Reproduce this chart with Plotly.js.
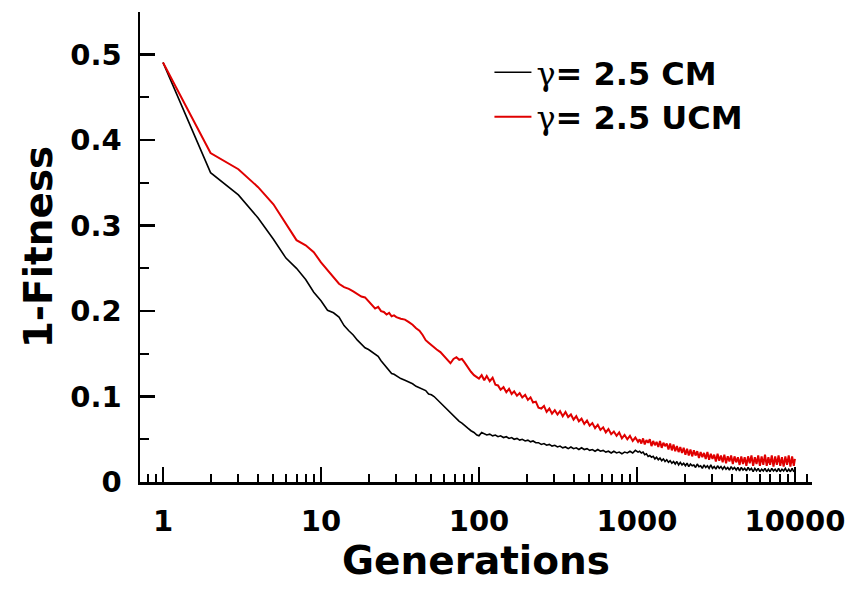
<!DOCTYPE html>
<html>
<head>
<meta charset="utf-8">
<script src="https://cdn.plot.ly/plotly-3.0.1.min.js"></script>
<style>html,body{margin:0;padding:0;background:#fff;}#chart{width:850px;height:590px;}</style>
</head>
<body>
<div id="chart"></div>
<script>
// Generations sampled (shared by both series)
var generations = [1,2,3,4,5,6,7,8,9,10,11,12,13,14,15,16,17,18,19,20,
21,22,23,24,25,26,27,28,29,30,32,34,36,38,40,42,44,46,48,50,52,54,57,60,63,66,69,72,75,78,81,85,89,93,97,100,
104,108,112,117,122,127,132,137,143,149,155,161,167,174,181,188,196,204,212,220,229,238,248,258,268,279,290,302,314,326,339,353,367,382,397,413,429,446,464,483,502,522,543,565,587,611,635,660,687,714,743,772,803,835,869,903,940,977,1016,
1040,1066,1093,1120,1148,1177,1206,1236,1267,1299,1331,1365,1399,1434,1470,1506,1544,1583,1622,1663,
1704,1747,1790,1835,1881,1928,1976,2026,2076,2128,2181,2236,2292,2349,2408,2468,2530,2593,2658,2724,
2792,2862,2934,3007,3082,3159,3238,3319,3402,3487,3574,3664,3755,3849,3945,4044,4145,4249,4355,4464,
4575,4690,4807,4927,5050,5176,5306,5438,5574,5714,5856,6003,6153,6307,6464,6626,6791,6961,7135,7313,
7496,7684,7876,8073,8274,8481,8693,8911,9133,9362,9596,9836,10000];

// 1-Fitness, gamma = 2.5 CM (black)
var cmValues = [0.491,0.362,0.336,0.309,0.284,0.262,0.250,0.237,0.222,0.212,0.201,0.198,0.193,0.183,0.177,0.172,0.166,0.161,0.157,0.155,
0.152,0.150,0.147,0.142,0.138,0.133,0.130,0.127,0.126,0.124,0.121,0.119,0.117,0.115,0.112,0.110,0.109,0.107,0.103,0.102,0.100,0.097,0.093,0.088,0.084,0.081,0.077,0.074,0.071,0.069,0.066,0.063,0.060,0.058,0.055,0.054,
0.058,0.056,0.055,0.056,0.054,0.055,0.053,0.054,0.052,0.053,0.051,0.052,0.050,0.051,0.049,0.050,0.048,0.049,0.047,0.048,0.046,0.046,0.044,0.045,0.043,0.044,0.042,0.043,0.041,0.042,0.040,0.041,0.039,0.041,0.039,0.040,0.038,0.040,0.038,0.039,0.037,0.038,0.036,0.038,0.036,0.037,0.035,0.036,0.034,0.036,0.034,0.035,0.033,0.035,0.034,0.036,0.034,0.037,0.035,
0.036,0.034,0.035,0.032,0.033,0.030,0.031,0.029,0.030,0.027,0.029,0.026,0.028,0.025,0.027,0.024,0.026,0.023,0.025,0.022,
0.024,0.021,0.024,0.020,0.023,0.020,0.022,0.019,0.022,0.018,0.021,0.019,0.020,0.017,0.021,0.018,0.019,0.016,0.020,0.017,
0.019,0.016,0.020,0.016,0.018,0.015,0.019,0.016,0.018,0.015,0.018,0.015,0.017,0.014,0.018,0.015,0.017,0.014,0.017,0.013,
0.017,0.014,0.016,0.013,0.017,0.014,0.016,0.012,0.016,0.013,0.016,0.012,0.015,0.013,0.016,0.012,0.015,0.012,0.016,0.013,
0.015,0.012,0.016,0.012,0.015,0.013,0.016,0.012,0.015,0.012,0.016,0.012,0.014];

// 1-Fitness, gamma = 2.5 UCM (red)
var ucmValues = [0.491,0.385,0.366,0.345,0.325,0.302,0.283,0.277,0.269,0.257,0.248,0.240,0.232,0.228,0.226,0.223,0.220,0.217,0.216,0.211,
0.207,0.203,0.205,0.200,0.199,0.196,0.198,0.194,0.195,0.193,0.191,0.190,0.187,0.184,0.180,0.177,0.172,0.166,0.163,0.160,0.158,0.155,0.152,0.147,0.143,0.139,0.144,0.146,0.143,0.144,0.140,0.134,0.129,0.125,0.123,0.121,
0.125,0.119,0.124,0.118,0.122,0.114,0.113,0.108,0.111,0.105,0.109,0.103,0.106,0.101,0.104,0.099,0.102,0.096,0.099,0.093,0.094,0.087,0.086,0.089,0.082,0.086,0.080,0.084,0.079,0.083,0.077,0.082,0.076,0.079,0.073,0.077,0.071,0.074,0.068,0.072,0.066,0.069,0.063,0.067,0.061,0.064,0.058,0.062,0.056,0.059,0.054,0.058,0.051,0.055,0.050,0.054,0.048,0.052,0.047,
0.050,0.045,0.051,0.044,0.049,0.046,0.050,0.042,0.048,0.043,0.047,0.041,0.048,0.040,0.046,0.042,0.045,0.038,0.045,0.037,
0.044,0.036,0.042,0.035,0.041,0.034,0.040,0.032,0.039,0.031,0.038,0.030,0.037,0.031,0.036,0.028,0.035,0.029,0.034,0.027,
0.035,0.026,0.033,0.027,0.032,0.024,0.033,0.025,0.031,0.023,0.032,0.022,0.030,0.024,0.031,0.021,0.030,0.023,0.029,0.020,
0.030,0.021,0.029,0.019,0.030,0.022,0.031,0.019,0.029,0.021,0.031,0.019,0.030,0.020,0.032,0.019,0.029,0.020,0.031,0.018,
0.030,0.020,0.031,0.019,0.029,0.018,0.030,0.020,0.031,0.018,0.030,0.019,0.027];

var seriesNames = ['γ= 2.5 CM', 'γ= 2.5 UCM'];
var xTickValues = [1,10,100,1000,10000];
var xTickLabels = ['1','10','100','1000','10000'];
var xMinorValues = [0.8,0.9,2,3,4,5,6,7,8,9,20,30,40,50,60,70,80,90,200,300,400,500,600,700,800,900,2000,3000,4000,5000,6000,7000,8000,9000,12000];
var yTickValues = [0,0.1,0.2,0.3,0.4,0.5];
var yTickLabels = ['0','0.1','0.2','0.3','0.4','0.5'];

var FONT = 'DejaVu Sans, Arial, sans-serif';
function legendName(s){
  return s.replace('γ', '<span style="font-family:\'DejaVu Serif\';font-weight:normal">γ</span>');
}

var traces = [
  {x: generations, y: cmValues, type: 'scatter', mode: 'lines', name: legendName(seriesNames[0]),
   legendgroup: 'a', line: {color: '#000000', width: 1.6}},
  {x: generations, y: ucmValues, type: 'scatter', mode: 'lines', name: legendName(seriesNames[1]),
   legendgroup: 'b', line: {color: '#e00000', width: 2}}
];

var layout = {
  width: 850, height: 590,
  margin: {l: 140, r: 38, t: 12, b: 108},
  paper_bgcolor: '#ffffff', plot_bgcolor: '#ffffff',
  font: {family: FONT, color: '#000', weight: 'bold'},
  showlegend: true,
  legend: {x: 0.52, y: 0.93, xanchor: 'left', yanchor: 'top', bgcolor: 'rgba(0,0,0,0)',
           itemwidth: 37,
           font: {family: FONT, size: 32, weight: 'bold', color: '#000'}, tracegroupgap: 0, traceorder: 'normal'},
  xaxis: {
    type: 'log', range: [-0.1456, 4.108], autorange: false,
    showline: true, linecolor: '#000', linewidth: 2.5, mirror: false,
    showgrid: false, zeroline: false,
    tickmode: 'array', tickvals: xTickValues, ticktext: xTickLabels,
    ticks: 'inside', ticklen: 15, tickwidth: 2.5, tickcolor: '#000',
    ticklabelstandoff: 12,
    tickfont: {family: FONT, size: 29, weight: 'bold', color: '#000'},
    minor: {tickmode: 'array', tickvals: xMinorValues, ticks: 'inside', ticklen: 8, tickwidth: 2, tickcolor: '#000', showgrid: false},
    title: {text: 'Generations', font: {family: FONT, size: 39, weight: 'bold', color: '#000'}, standoff: 8}
  },
  yaxis: {
    range: [0, 0.55], autorange: false,
    showline: true, linecolor: '#000', linewidth: 2.5, mirror: false,
    showgrid: false, zeroline: false,
    tickmode: 'array', tickvals: yTickValues, ticktext: yTickLabels,
    ticks: 'inside', ticklen: 15, tickwidth: 2.5, tickcolor: '#000',
    ticklabelstandoff: 10,
    tickfont: {family: FONT, size: 29, weight: 'bold', color: '#000'},
    minor: {dtick: 0.05, tick0: 0, ticks: 'inside', ticklen: 9, tickwidth: 2, tickcolor: '#000', showgrid: false},
    title: {text: '1-Fitness', font: {family: FONT, size: 39, weight: 'bold', color: '#000'}, standoff: 6}
  }
};

Plotly.newPlot('chart', traces, layout, {staticPlot: true, displayModeBar: false});
</script>
</body>
</html>
